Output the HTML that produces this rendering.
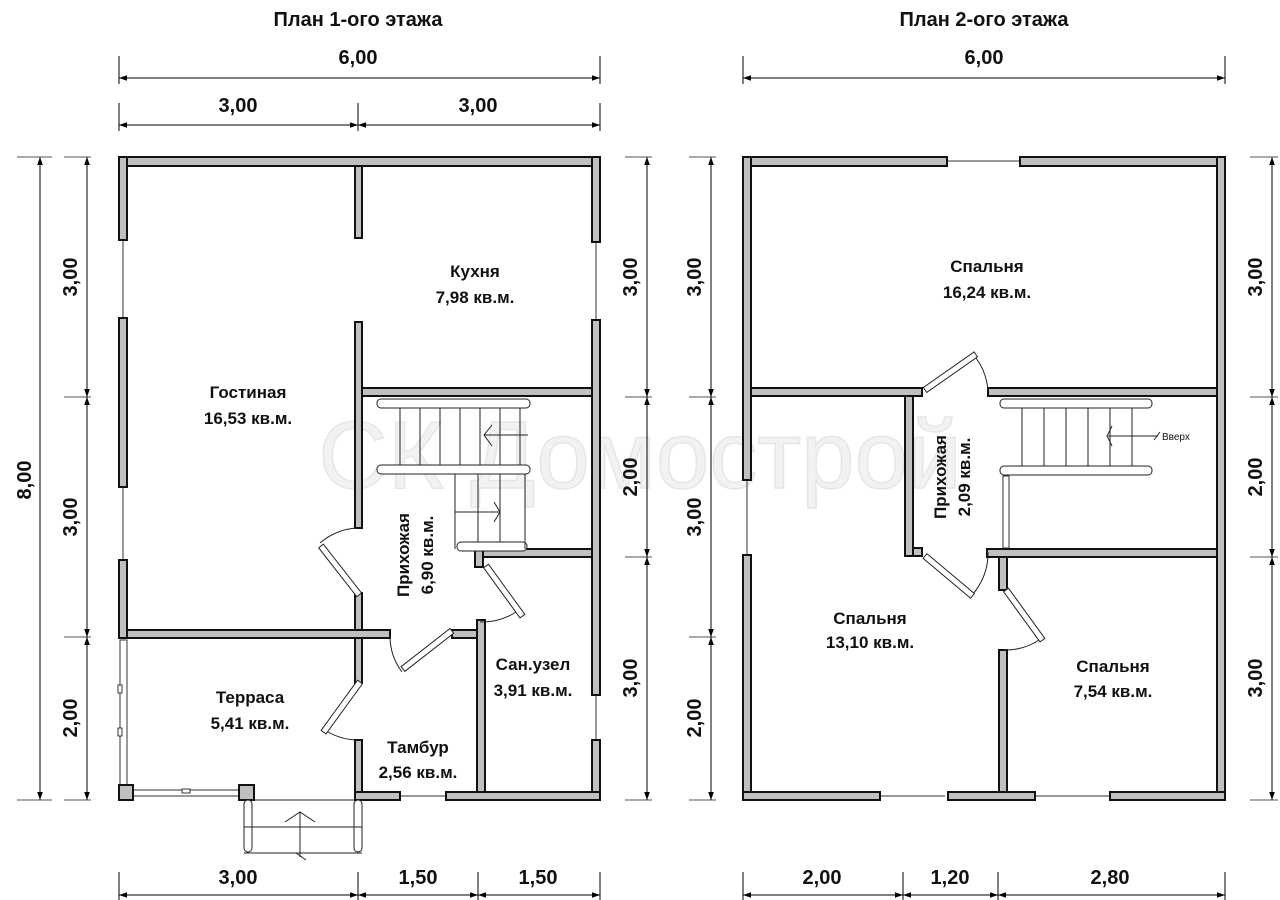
<!DOCTYPE html>
<html><head><meta charset="utf-8"><style>
html,body{margin:0;padding:0;background:#fff;}
svg{display:block;}
text{font-family:"Liberation Sans",Arial,sans-serif;font-weight:bold;fill:#111;}
</style></head><body>
<svg width="1280" height="900" viewBox="0 0 1280 900" xmlns="http://www.w3.org/2000/svg">
<defs>
<marker id="a" viewBox="0 0 10 10" refX="10" refY="5" markerWidth="8" markerHeight="8" orient="auto-start-reverse" markerUnits="userSpaceOnUse"><path d="M0,1.5 L10,5 L0,8.5z" fill="#000"/></marker>
</defs>

<!-- watermark -->
<text x="640" y="488" font-size="96" text-anchor="middle" style="font-weight:normal;fill:#f2f2f2;stroke:#e6e6e6;stroke-width:1.5">СК Домострой</text>

<!-- titles -->
<text x="358" y="26" font-size="20" text-anchor="middle">План 1-ого этажа</text>
<text x="984" y="26" font-size="20" text-anchor="middle">План 2-ого этажа</text>

<g stroke="#000" stroke-width="1" fill="none">
<line x1="119" y1="56" x2="119" y2="84"/><line x1="600" y1="56" x2="600" y2="84"/>
<line x1="119" y1="78" x2="358" y2="78" marker-start="url(#a)"/><line x1="358" y1="78" x2="600" y2="78" marker-end="url(#a)"/>
<line x1="119" y1="103" x2="119" y2="131"/><line x1="358" y1="103" x2="358" y2="131"/><line x1="600" y1="103" x2="600" y2="131"/>
<line x1="119" y1="125" x2="358" y2="125" marker-start="url(#a)" marker-end="url(#a)"/>
<line x1="358" y1="125" x2="600" y2="125" marker-start="url(#a)" marker-end="url(#a)"/>
<g stroke="#555"><line x1="17" y1="157" x2="52" y2="157"/><line x1="17" y1="800" x2="52" y2="800"/>
<line x1="64" y1="157" x2="91" y2="157"/><line x1="64" y1="397" x2="91" y2="397"/><line x1="64" y1="637" x2="91" y2="637"/><line x1="64" y1="800" x2="91" y2="800"/></g>
<line x1="40" y1="157" x2="40" y2="800" marker-start="url(#a)" marker-end="url(#a)"/>
<line x1="87" y1="157" x2="87" y2="397" marker-start="url(#a)" marker-end="url(#a)"/>
<line x1="87" y1="397" x2="87" y2="637" marker-start="url(#a)" marker-end="url(#a)"/>
<line x1="87" y1="637" x2="87" y2="800" marker-start="url(#a)" marker-end="url(#a)"/>
<g stroke="#555"><line x1="625" y1="157" x2="652" y2="157"/><line x1="625" y1="397" x2="652" y2="397"/><line x1="625" y1="557" x2="652" y2="557"/><line x1="625" y1="800" x2="652" y2="800"/></g>
<line x1="647" y1="157" x2="647" y2="397" marker-start="url(#a)" marker-end="url(#a)"/>
<line x1="647" y1="397" x2="647" y2="557" marker-start="url(#a)" marker-end="url(#a)"/>
<line x1="647" y1="557" x2="647" y2="800" marker-start="url(#a)" marker-end="url(#a)"/>
<line x1="119" y1="872" x2="119" y2="900"/><line x1="358" y1="872" x2="358" y2="900"/><line x1="478" y1="872" x2="478" y2="900"/><line x1="600" y1="872" x2="600" y2="900"/>
<line x1="119" y1="895" x2="358" y2="895" marker-start="url(#a)" marker-end="url(#a)"/>
<line x1="358" y1="895" x2="478" y2="895" marker-start="url(#a)" marker-end="url(#a)"/>
<line x1="478" y1="895" x2="600" y2="895" marker-start="url(#a)" marker-end="url(#a)"/>

<line x1="743" y1="56" x2="743" y2="84"/><line x1="1225" y1="56" x2="1225" y2="84"/>
<line x1="743" y1="78" x2="1225" y2="78" marker-start="url(#a)" marker-end="url(#a)"/>
<g stroke="#555"><line x1="689" y1="157" x2="716" y2="157"/><line x1="689" y1="397" x2="716" y2="397"/><line x1="689" y1="637" x2="716" y2="637"/><line x1="689" y1="800" x2="716" y2="800"/></g>
<line x1="711" y1="157" x2="711" y2="397" marker-start="url(#a)" marker-end="url(#a)"/>
<line x1="711" y1="397" x2="711" y2="637" marker-start="url(#a)" marker-end="url(#a)"/>
<line x1="711" y1="637" x2="711" y2="800" marker-start="url(#a)" marker-end="url(#a)"/>
<g stroke="#555"><line x1="1250" y1="157" x2="1278" y2="157"/><line x1="1250" y1="397" x2="1278" y2="397"/><line x1="1250" y1="557" x2="1278" y2="557"/><line x1="1250" y1="800" x2="1278" y2="800"/></g>
<line x1="1272" y1="157" x2="1272" y2="397" marker-start="url(#a)" marker-end="url(#a)"/>
<line x1="1272" y1="397" x2="1272" y2="557" marker-start="url(#a)" marker-end="url(#a)"/>
<line x1="1272" y1="557" x2="1272" y2="800" marker-start="url(#a)" marker-end="url(#a)"/>
<line x1="743" y1="872" x2="743" y2="900"/><line x1="903" y1="872" x2="903" y2="900"/><line x1="998" y1="872" x2="998" y2="900"/><line x1="1225" y1="872" x2="1225" y2="900"/>
<line x1="743" y1="895" x2="903" y2="895" marker-start="url(#a)" marker-end="url(#a)"/>
<line x1="903" y1="895" x2="998" y2="895" marker-start="url(#a)" marker-end="url(#a)"/>
<line x1="998" y1="895" x2="1225" y2="895" marker-start="url(#a)" marker-end="url(#a)"/>
</g>

<g font-size="20" text-anchor="middle">
<text x="358" y="64">6,00</text>
<text x="238" y="112">3,00</text><text x="478" y="112">3,00</text>
<text x="238" y="884">3,00</text><text x="418" y="884">1,50</text><text x="538" y="884">1,50</text>
<text x="984" y="64">6,00</text>
<text x="822" y="884">2,00</text><text x="950" y="884">1,20</text><text x="1110" y="884">2,80</text>
<text transform="translate(31,480) rotate(-90)">8,00</text>
<text transform="translate(77,277) rotate(-90)">3,00</text>
<text transform="translate(77,517) rotate(-90)">3,00</text>
<text transform="translate(77,718) rotate(-90)">2,00</text>
<text transform="translate(637,277) rotate(-90)">3,00</text>
<text transform="translate(637,477) rotate(-90)">2,00</text>
<text transform="translate(637,678) rotate(-90)">3,00</text>
<text transform="translate(701,277) rotate(-90)">3,00</text>
<text transform="translate(701,517) rotate(-90)">3,00</text>
<text transform="translate(701,718) rotate(-90)">2,00</text>
<text transform="translate(1262,277) rotate(-90)">3,00</text>
<text transform="translate(1262,477) rotate(-90)">2,00</text>
<text transform="translate(1262,678) rotate(-90)">3,00</text>
</g>

<g stroke="#333" stroke-width="1" fill="none">
<line x1="123" y1="240" x2="123" y2="318"/><line x1="123" y1="487" x2="123" y2="560"/>
<line x1="596" y1="242" x2="596" y2="320"/><line x1="596" y1="695" x2="596" y2="740"/>
<line x1="400" y1="796" x2="446" y2="796"/>
<line x1="947" y1="161" x2="1020" y2="161"/>
<line x1="747" y1="480" x2="747" y2="555"/>
<line x1="880" y1="796" x2="945" y2="796"/><line x1="1035" y1="796" x2="1110" y2="796"/>
<rect x="120" y="640" width="7" height="146" fill="#fff"/>
<rect x="133" y="790" width="106" height="6" fill="#fff"/>
<rect x="118" y="685" width="4" height="8" fill="#fff"/><rect x="118" y="728" width="4" height="8" fill="#fff"/>
<rect x="182" y="789" width="8" height="4" fill="#fff"/>
<rect x="1003" y="476" width="6" height="72" fill="#fff"/>
</g>

<g fill="#c0c0c0" stroke="#111" stroke-width="2">
<rect x="119" y="157" width="481" height="9"/>
<rect x="119" y="157" width="8" height="83"/>
<rect x="119" y="318" width="8" height="169"/>
<rect x="119" y="560" width="8" height="78"/>
<rect x="592" y="157" width="8" height="85"/>
<rect x="592" y="320" width="8" height="375"/>
<rect x="592" y="740" width="8" height="60"/>
<rect x="355" y="166" width="7" height="72"/>
<rect x="355" y="322" width="7" height="206"/>
<rect x="355" y="593" width="7" height="90"/>
<rect x="355" y="740" width="7" height="60"/>
<rect x="355" y="792" width="45" height="8"/>
<rect x="446" y="792" width="154" height="8"/>
<rect x="362" y="388" width="230" height="8"/>
<rect x="127" y="630" width="263" height="8"/>
<rect x="476" y="549" width="116" height="8"/>
<rect x="475" y="549" width="8" height="18"/>
<rect x="477" y="620" width="8" height="172"/>
<rect x="452" y="630" width="25" height="8"/>
<rect x="119" y="785" width="14" height="15"/>
<rect x="239" y="785" width="15" height="15"/>
<rect x="743" y="157" width="204" height="9"/>
<rect x="1020" y="157" width="205" height="9"/>
<rect x="743" y="157" width="8" height="323"/>
<rect x="743" y="555" width="8" height="245"/>
<rect x="1217" y="157" width="8" height="643"/>
<rect x="743" y="792" width="137" height="8"/>
<rect x="948" y="792" width="87" height="8"/>
<rect x="1110" y="792" width="115" height="8"/>
<rect x="751" y="388" width="171" height="8"/>
<rect x="988" y="388" width="229" height="8"/>
<rect x="905" y="396" width="8" height="160"/>
<rect x="913" y="548" width="9" height="8"/>
<rect x="987" y="549" width="230" height="8"/>
<rect x="999" y="557" width="8" height="33"/>
<rect x="999" y="650" width="8" height="142"/>
</g>

<g stroke="#222" stroke-width="1" fill="#fff">
<path d="M358,528 A62,62 0 0 0 320,543" fill="none"/>
<rect x="318" y="546" width="6" height="62" transform="rotate(-38 321 546)"/>
<path d="M390,636 A60,60 0 0 0 402,672" fill="none"/>
<rect x="400" y="669" width="6" height="62" transform="rotate(-128 403 669)"/>
<path d="M480,622 A62,62 0 0 0 516,612" fill="none"/>
<rect x="483" y="566" width="6" height="62" transform="rotate(-36 486 566)"/>
<path d="M358,740 A62,62 0 0 1 322,728" fill="none"/>
<rect x="357" y="682" width="6" height="62" transform="rotate(36 360 682)"/>
<path d="M988,392 A62,62 0 0 0 976,358" fill="none"/>
<rect x="922" y="390" width="6" height="62" transform="rotate(-125 925 390)"/>
<path d="M988,552 A62,62 0 0 1 972,595" fill="none"/>
<rect x="922" y="556" width="6" height="62" transform="rotate(-50 925 556)"/>
<path d="M1003,650 A62,62 0 0 0 1042,638" fill="none"/>
<rect x="1003" y="590" width="6" height="62" transform="rotate(-36 1006 590)"/>
</g>

<g stroke="#222" stroke-width="1" fill="none">
<rect x="377" y="399" width="153" height="9" rx="4" fill="#fff"/>
<rect x="377" y="465" width="153" height="9" rx="4" fill="#fff"/>
<rect x="457" y="542" width="70" height="9" rx="4" fill="#fff"/>
<path d="M400,408V465M420,408V465M440,408V465M460,408V465M480,408V465M500,408V465M520,408V465"/>
<path d="M455,474V549M478,474V542M500,474V542M525,474V549"/>
<path d="M484,435H528M492,425L484,435L492,446"/>
<path d="M455,512H500M494,502L500,512L494,522"/>
<rect x="244" y="800" width="8" height="52" rx="4" fill="#fff"/>
<rect x="354" y="800" width="8" height="52" rx="4" fill="#fff"/>
<path d="M242,800H362M244,827H362M244,853H362"/>
<path d="M300,857V812M285,822L300,812L315,822M296,853L306,860"/>
<rect x="1000" y="399" width="152" height="9" rx="4" fill="#fff"/>
<rect x="1000" y="466" width="152" height="9" rx="4" fill="#fff"/>
<path d="M1022,408V466M1044,408V466M1066,408V466M1088,408V466M1110,408V466M1132,408V466"/>
<path d="M1108,436H1158M1112,426L1107,436L1112,446M1154,440L1160,432"/>
</g>
<text x="1162" y="440" font-size="10" style="font-weight:normal">Вверх</text>

<g font-size="17" text-anchor="middle">
<text x="475" y="277">Кухня</text><text x="475" y="303">7,98 кв.м.</text>
<text x="248" y="398">Гостиная</text><text x="248" y="424">16,53 кв.м.</text>
<text x="250" y="703">Терраса</text><text x="250" y="729">5,41 кв.м.</text>
<text x="418" y="753">Тамбур</text><text x="418" y="778">2,56 кв.м.</text>
<text x="533" y="670">Сан.узел</text><text x="533" y="696">3,91 кв.м.</text>
<text transform="translate(409,555) rotate(-90)">Прихожая</text>
<text transform="translate(433,555) rotate(-90)">6,90 кв.м.</text>
<text x="987" y="272">Спальня</text><text x="987" y="298">16,24 кв.м.</text>
<text x="870" y="624">Спальня</text><text x="870" y="648">13,10 кв.м.</text>
<text x="1113" y="672">Спальня</text><text x="1113" y="697">7,54 кв.м.</text>
<text transform="translate(946,477) rotate(-90)">Прихожая</text>
<text transform="translate(970,477) rotate(-90)">2,09 кв.м.</text>
</g>
</svg>
</body></html>
